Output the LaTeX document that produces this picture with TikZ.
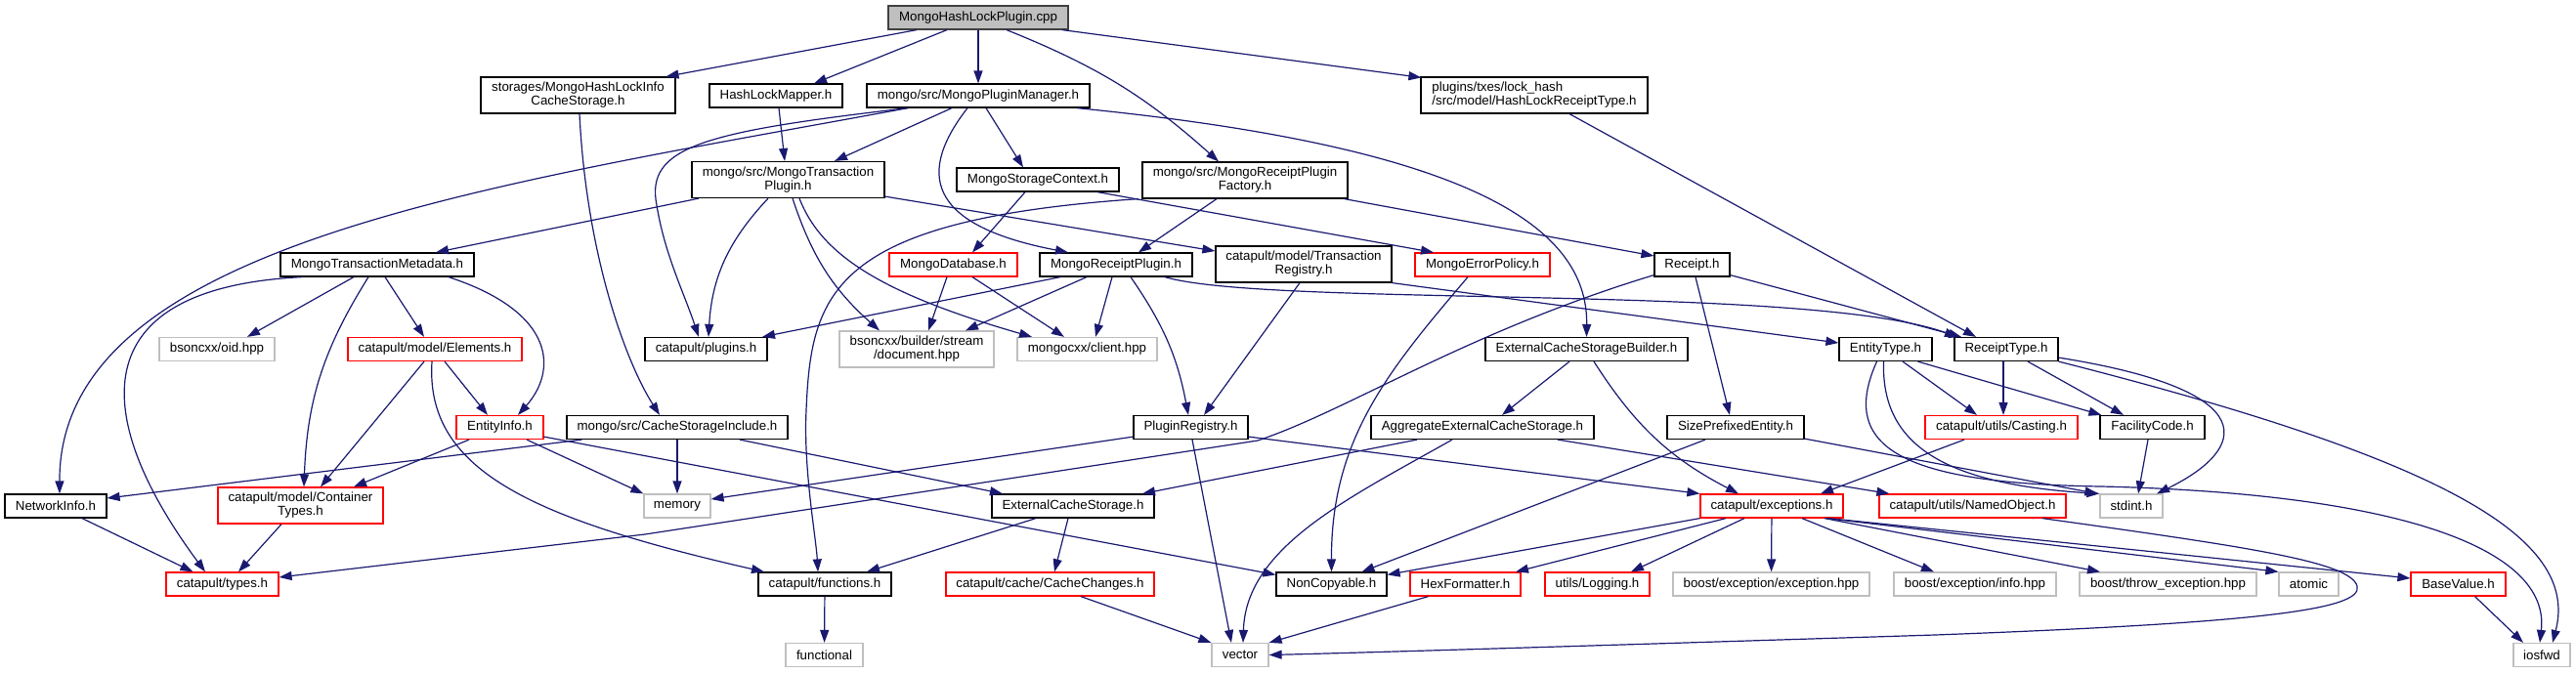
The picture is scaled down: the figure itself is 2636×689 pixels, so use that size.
\documentclass[tikz,border=0pt]{standalone}
\usepackage{fontspec}
\setmainfont{Liberation Sans}
\definecolor{dgblue}{RGB}{25,25,112}
\definecolor{dgred}{RGB}{255,0,0}
\definecolor{dggray}{RGB}{191,191,191}
\definecolor{dgdark}{RGB}{64,64,64}
\usetikzlibrary{arrows.meta,positioning}

\begin{document}
\begin{tikzpicture}[x=1pt,y=-1pt,
  dgfile/.style={draw=black,fill=white,line width=1.2pt,minimum height=24pt,
    inner xsep=2pt,inner ysep=0pt,align=center,font=\fontsize{13.3}{14}\selectfont},
  dgbad/.style={dgfile,draw=dgred},
  dgsys/.style={dgfile,draw=dggray},
  dgroot/.style={dgfile,fill=dggray,draw=dgdark},
  dgedge/.style={draw=dgblue,line width=1.2pt,-{Triangle[length=13pt,width=9pt]}}
]
  \useasboundingbox (0,0) rectangle (2636,689);
  % Row 0: the source file
  \node[dgroot,minimum width=184pt] (root) at (1001,18) {MongoHashLockPlugin.cpp};
  % Row 1
  \node[dgfile,minimum width=199pt,minimum height=37pt] (stor) at (591.5,97.5) {storages/MongoHashLockInfo\\CacheStorage.h};
  \node[dgfile,minimum width=136pt] (hlm) at (794,98) {HashLockMapper.h};
  \node[dgfile,minimum width=228pt] (mpm) at (1001,98) {mongo/src/MongoPluginManager.h};
  \node[dgfile,minimum width=232pt,minimum height=37pt,align=left] (hlrt) at (1570,97.5) {plugins/txes/lock\_hash\\/src/model/HashLockReceiptType.h};
  % Row 2
  \node[dgfile,minimum width=197pt,minimum height=37pt] (mtp) at (806.5,184) {mongo/src/MongoTransaction\\Plugin.h};
  \node[dgfile,minimum width=166pt] (msc) at (1062,184) {MongoStorageContext.h};
  \node[dgfile,minimum width=210pt,minimum height=37pt] (mrpf) at (1274,184.5) {mongo/src/MongoReceiptPlugin\\Factory.h};
  % Row 3
  \node[dgfile,minimum width=198pt] (mtm) at (386,271) {MongoTransactionMetadata.h};
  \node[dgbad,minimum width=131pt] (mdb) at (975.5,271) {MongoDatabase.h};
  \node[dgfile,minimum width=156pt] (mrp) at (1142,271) {MongoReceiptPlugin.h};
  \node[dgfile,minimum width=180pt,minimum height=37pt] (treg) at (1334,270.5) {catapult/model/Transaction\\Registry.h};
  \node[dgbad,minimum width=138pt] (mep) at (1517,271) {MongoErrorPolicy.h};
  \node[dgfile,minimum width=77pt] (rcpt) at (1731.5,271) {Receipt.h};
  % Row 4
  \node[dgsys,minimum width=118pt] (oid) at (222,357.5) {bsoncxx/oid.hpp};
  \node[dgbad,minimum width=178pt] (elem) at (445,357.5) {catapult/model/Elements.h};
  \node[dgfile,minimum width=125pt] (plug) at (722.5,357.5) {catapult/plugins.h};
  \node[dgsys,minimum width=158pt,minimum height=37pt] (bdoc) at (938,357.5) {bsoncxx/builder/stream\\/document.hpp};
  \node[dgsys,minimum width=143pt] (mcli) at (1112.5,357.5) {mongocxx/client.hpp};
  \node[dgfile,minimum width=207pt] (ecsb) at (1623.5,357.5) {ExternalCacheStorageBuilder.h};
  \node[dgfile,minimum width=95pt] (ety) at (1929.5,357.5) {EntityType.h};
  \node[dgfile,minimum width=106pt] (rty) at (2053,357.5) {ReceiptType.h};
  % Row 5
  \node[dgbad,minimum width=89pt] (einf) at (511.5,437.5) {EntityInfo.h};
  \node[dgfile,minimum width=226pt] (csi) at (693,437.5) {mongo/src/CacheStorageInclude.h};
  \node[dgfile,minimum width=117pt] (preg) at (1218.5,437.5) {PluginRegistry.h};
  \node[dgfile,minimum width=228pt] (aecs) at (1517,437.5) {AggregateExternalCacheStorage.h};
  \node[dgfile,minimum width=140pt] (spe) at (1776,437.5) {SizePrefixedEntity.h};
  \node[dgbad,minimum width=156pt] (cast) at (2048,437.5) {catapult/utils/Casting.h};
  \node[dgfile,minimum width=107pt] (fac) at (2202.5,437.5) {FacilityCode.h};
  % Row 6
  \node[dgfile,minimum width=104pt] (ninf) at (57,518) {NetworkInfo.h};
  \node[dgbad,minimum width=169pt,minimum height=37pt] (ctyp) at (307.5,517.5) {catapult/model/Container\\Types.h};
  \node[dgsys,minimum width=68pt] (mem) at (693,518) {memory};
  \node[dgfile,minimum width=166pt] (ecs) at (1098,518) {ExternalCacheStorage.h};
  \node[dgbad,minimum width=146pt] (exc) at (1813,518) {catapult/exceptions.h};
  \node[dgbad,minimum width=191pt] (nobj) at (2018.5,518) {catapult/utils/NamedObject.h};
  \node[dgsys,minimum width=64pt] (sint) at (2181,518) {stdint.h};
  % Row 7
  \node[dgbad,minimum width=115pt] (typ) at (227.5,598) {catapult/types.h};
  \node[dgfile,minimum width=136pt] (func) at (844,598) {catapult/functions.h};
  \node[dgbad,minimum width=213pt] (cchg) at (1074.5,598) {catapult/cache/CacheChanges.h};
  \node[dgfile,minimum width=113pt] (ncp) at (1362.5,598) {NonCopyable.h};
  \node[dgbad,minimum width=113pt] (hexf) at (1499.5,598) {HexFormatter.h};
  \node[dgbad,minimum width=107pt] (logg) at (1634.5,598) {utils/Logging.h};
  \node[dgsys,minimum width=201pt] (bexc) at (1812.5,598) {boost/exception/exception.hpp};
  \node[dgsys,minimum width=166pt] (binf) at (2021,598) {boost/exception/info.hpp};
  \node[dgsys,minimum width=181pt] (bthr) at (2218.5,598) {boost/throw\_exception.hpp};
  \node[dgsys,minimum width=61pt] (atom) at (2362.5,598) {atomic};
  \node[dgbad,minimum width=97pt] (bval) at (2515.5,598) {BaseValue.h};
  % Row 8
  \node[dgsys,minimum width=79pt] (fnl) at (843.5,670.5) {functional};
  \node[dgsys,minimum width=58pt] (vec) at (1269,670.5) {vector};
  \node[dgsys,minimum width=58pt] (iosf) at (2601,670.5) {iosfwd};

  % includes of the .cpp
  \draw[dgedge] ([xshift=-63pt]root.south) -- ([xshift=90pt]stor.north);
  \draw[dgedge] ([xshift=-32pt]root.south) -- ([xshift=39pt]hlm.north);
  \draw[dgedge] (root) -- (mpm);
  \draw[dgedge] ([xshift=29pt]root.south) to[bend left=10] ([xshift=-27pt]mrpf.north);
  \draw[dgedge] ([xshift=86pt]root.south) -- ([xshift=1pt,yshift=-1pt]hlrt.north west);
  % row 1
  \draw[dgedge] ([xshift=3pt]hlm.south) -- ([xshift=-3.5pt]mtp.north);
  \draw[dgedge] ([xshift=1.5pt]stor.south) .. controls (600,260) and (640,370) .. ([xshift=-18pt]csi.north);
  \draw[dgedge] ([xshift=-72pt]mpm.south) .. controls (500,190) and (60,250) .. ([xshift=4pt]ninf.north);
  \draw[dgedge] ([xshift=-27pt]mpm.south) -- ([xshift=47.5pt]mtp.north);
  \draw[dgedge] ([xshift=-72pt]mpm.south) .. controls (720,135) and (660,150) .. (672,210)
    .. controls (680,260) and (700,300) .. ([xshift=-7.5pt]plug.north);
  \draw[dgedge] ([xshift=8pt]mpm.south) -- ([xshift=-15pt]msc.north);
  \draw[dgedge] ([xshift=-11pt]mpm.south) .. controls (940,175) and (945,230) .. ([xshift=-49pt]mrp.north);
  \draw[dgedge] ([xshift=101pt]mpm.south) .. controls (1500,150) and (1625,230) .. (ecsb.north);
  \draw[dgedge] ([xshift=36pt]hlrt.south) -- ([xshift=-31pt]rty.north);
  % row 2
  \draw[dgedge] ([xshift=-91.5pt]mtp.south) -- ([xshift=60pt]mtm.north);
  \draw[dgedge] ([xshift=-20.5pt]mtp.south) to[bend right=20] ([xshift=2.5pt]plug.north);
  \draw[dgedge] ([xshift=4.5pt]mtp.south) to[bend right=15] ([xshift=-38pt]bdoc.north);
  \draw[dgedge] ([xshift=11.5pt]mtp.south) .. controls (840,260) and (900,300) .. ([xshift=-56.5pt]mcli.north);
  \draw[dgedge] ([yshift=2pt]mtp.south east) -- ([yshift=13.5pt]treg.west);
  \draw[dgedge] ([xshift=-13pt]msc.south) -- ([xshift=19.5pt]mdb.north);
  \draw[dgedge] ([xshift=61pt]msc.south) -- ([xshift=-50pt]mep.north);
  \draw[dgedge] ([xshift=-29pt]mrpf.south) -- ([xshift=23pt]mrp.north);
  \draw[dgedge] ([xshift=-4pt]mrpf.south east) -- ([yshift=9pt]rcpt.west);
  \draw[dgedge] ([xshift=-109pt]mrpf.south) .. controls (850,225) and (830,300) .. (825,420)
    .. controls (822,480) and (835,550) .. ([xshift=-7pt]func.north);
  % row 3
  \draw[dgedge] ([xshift=-6.5pt]mdb.south) -- ([xshift=12pt]bdoc.north);
  \draw[dgedge] ([xshift=19.5pt]mdb.south) -- ([xshift=-23.5pt]mcli.north);
  \draw[dgedge] ([xshift=-57pt]mrp.south) -- ([xshift=57.5pt]plug.north);
  \draw[dgedge] ([xshift=-30pt]mrp.south) -- ([xshift=50pt]bdoc.north);
  \draw[dgedge] ([xshift=-4pt]mrp.south) -- ([xshift=8.5pt]mcli.north);
  \draw[dgedge] ([xshift=15pt]mrp.south) to[bend left=12] ([xshift=-2.5pt]preg.north);
  \draw[dgedge] ([xshift=50pt]mrp.south) .. controls (1300,315) and (1850,290) .. ([xshift=-50pt]rty.north);
  \draw[dgedge] ([xshift=-4pt]treg.south) -- ([xshift=13.5pt]preg.north);
  \draw[dgedge] (treg.south east) -- ([yshift=6.5pt]ety.west);
  \draw[dgedge] ([xshift=-15pt]mep.south) .. controls (1420,380) and (1362,450) .. (ncp.north);
  \draw[dgedge] ([yshift=2pt]rcpt.south west) .. controls (1500,340) and (1380,420) .. (1287,451)
    -- (660,547) -- ([yshift=7pt]typ.east);
  \draw[dgedge] ([yshift=2pt]rcpt.south east) -- ([xshift=-46pt]rty.north);
  \draw[dgedge] ([xshift=3.5pt]rcpt.south) -- ([xshift=-6pt]spe.north);
  \draw[dgedge] ([xshift=-77pt]mtm.south) .. controls (80,295) and (95,430) .. ([xshift=-17.5pt]typ.north);
  \draw[dgedge] ([xshift=-24pt]mtm.south) -- ([xshift=31pt]oid.north);
  \draw[dgedge] ([xshift=-9pt]mtm.south) to[bend right=15] ([xshift=3.5pt]ctyp.north);
  \draw[dgedge] ([xshift=8pt]mtm.south) -- ([xshift=-11pt]elem.north);
  \draw[dgedge] ([xshift=73pt]mtm.south) .. controls (570,320) and (570,380) .. ([xshift=18.5pt]einf.north);
  % row 4
  \draw[dgedge] ([xshift=-11pt]elem.south) -- ([xshift=20.5pt]ctyp.north);
  \draw[dgedge] ([xshift=10pt]elem.south) -- ([xshift=-12.5pt]einf.north);
  \draw[dgedge] ([xshift=-3pt]elem.south) .. controls (435,480) and (540,530) .. ([xshift=-62pt]func.north);
  \draw[dgedge] ([xshift=-17.5pt]ecsb.south) -- ([xshift=20pt]aecs.north);
  \draw[dgedge] ([xshift=7.5pt]ecsb.south) to[bend right=15] ([xshift=-34pt]exc.north);
  \draw[dgedge] ([xshift=17.5pt]ety.south) -- ([xshift=-25pt]cast.north);
  \draw[dgedge] ([xshift=33pt]ety.south) -- ([xshift=2pt]fac.north west);
  \draw[dgedge] ([xshift=-2pt]ety.south) .. controls (1925,450) and (1980,495) .. (sint.north west);
  \draw[dgedge] ([xshift=-9pt]ety.south) .. controls (1880,460) and (1950,495) .. (2150,498)
    .. controls (2450,505) and (2610,560) .. ([xshift=-2pt]iosf.north);
  \draw[dgedge] ([xshift=-3pt]rty.south) -- ([xshift=2pt]cast.north);
  \draw[dgedge] ([xshift=22pt]rty.south) -- ([xshift=-29.5pt]fac.north);
  \draw[dgedge] ([yshift=4pt]rty.south east) .. controls (2320,400) and (2300,460) .. ([xshift=26pt]sint.north);
  \draw[dgedge] (rty.south east) .. controls (2500,470) and (2640,550) .. ([xshift=11pt]iosf.north);
  % row 5
  \draw[dgedge] ([xshift=-31.5pt]einf.south) -- ([xshift=54.5pt]ctyp.north);
  \draw[dgedge] ([xshift=27.5pt]einf.south) -- (mem.north west);
  \draw[dgedge] ([yshift=3pt]einf.south east) -- ([yshift=-3pt]ncp.north west);
  \draw[dgedge] ([xshift=16pt]csi.south west) -- ([yshift=8pt]ninf.east);
  \draw[dgedge] (csi) -- (mem);
  \draw[dgedge] ([xshift=64pt]csi.south) -- ([xshift=-72pt]ecs.north);
  \draw[dgedge] ([yshift=3pt]preg.south west) -- ([yshift=7pt]mem.east);
  \draw[dgedge] ([xshift=1.5pt]preg.south) -- ([xshift=-9pt]vec.north);
  \draw[dgedge] ([yshift=3pt]preg.south east) -- (exc.north west);
  \draw[dgedge] ([xshift=-67pt]aecs.south) -- ([xshift=71pt]ecs.north);
  \draw[dgedge] ([xshift=-31pt]aecs.south) .. controls (1380,510) and (1275,560) .. ([xshift=3pt]vec.north);
  \draw[dgedge] ([xshift=77pt]aecs.south) -- ([xshift=11pt]nobj.north west);
  \draw[dgedge] ([xshift=-31pt]spe.south) -- ([xshift=31pt]ncp.north);
  \draw[dgedge] ([yshift=1pt]spe.south east) -- ([xshift=-2pt]sint.north west);
  \draw[dgedge] ([xshift=-38pt]cast.south) -- ([xshift=50pt]exc.north);
  \draw[dgedge] ([xshift=-4.5pt]fac.south) -- ([xshift=7pt]sint.north);
  % row 6
  \draw[dgedge] ([xshift=27pt]ninf.south) -- ([xshift=-30pt]typ.north);
  \draw[dgedge] ([xshift=-19.5pt]ctyp.south) -- ([xshift=16.5pt]typ.north);
  \draw[dgedge] ([xshift=-38pt]ecs.south) -- ([xshift=43pt]func.north);
  \draw[dgedge] ([xshift=-5pt]ecs.south) -- ([xshift=4.5pt]cchg.north);
  \draw[dgedge] (exc.south west) -- ([yshift=-3pt]ncp.north east);
  \draw[dgedge] ([xshift=-47pt]exc.south) -- ([xshift=51.5pt]hexf.north);
  \draw[dgedge] ([xshift=-28pt]exc.south) -- ([xshift=34.5pt]logg.north);
  \draw[dgedge] (exc) -- (bexc);
  \draw[dgedge] ([xshift=31pt]exc.south) -- ([xshift=-42pt]binf.north);
  \draw[dgedge] ([xshift=54pt]exc.south) -- ([xshift=-69.5pt]bthr.north);
  \draw[dgedge] ([xshift=56pt]exc.south) -- (atom.north west);
  \draw[dgedge] ([xshift=58pt]exc.south) -- ([yshift=6pt]bval.west);
  \draw[dgedge] ([xshift=71.5pt]nobj.south) .. controls (2300,560) and (2405,575) .. (2412,600)
    .. controls (2419,625) and (2300,638) .. (1980,650)
    .. controls (1600,662) and (1400,668) .. (vec.east);
  % row 7
  \draw[dgedge] (func) -- (fnl);
  \draw[dgedge] ([xshift=31.5pt]cchg.south) -- (vec.north west);
  \draw[dgedge] ([xshift=-38pt]hexf.south) -- (vec.north east);
  \draw[dgedge] ([xshift=17pt]bval.south) -- ([xshift=-19pt]iosf.north);
\end{tikzpicture}
\end{document}
